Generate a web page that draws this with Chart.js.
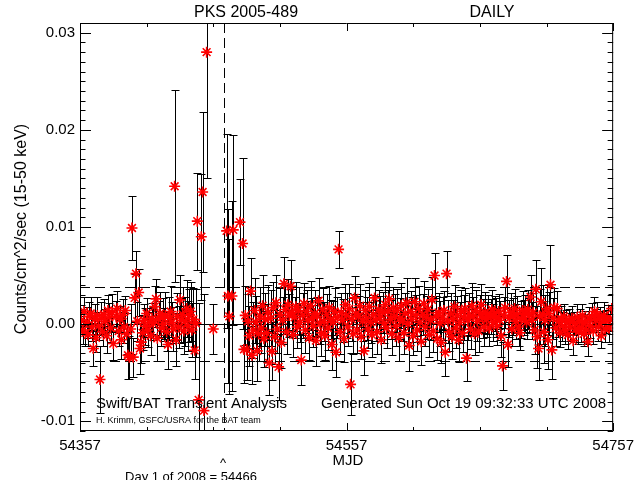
<!DOCTYPE html>
<html>
<head>
<meta charset="utf-8">
<script src="https://cdn.jsdelivr.net/npm/chart.js@4.4.1/dist/chart.umd.min.js"></script>
<style>
  html, body { margin: 0; padding: 0; background: #fff; }
</style>
</head>
<body>
<canvas id="myChart" width="640" height="480"></canvas>
<script>
// daily light curve, rate in units of 1e-3 counts/cm^2/sec
var mjd = [
  54358,54359,54360,54361,54362,54363,54364,54365,54366,54367,
  54368,54369,54370,54371,54372,54373,54374,54375,54376,54377,
  54378,54379,54380,54381,54382,54384,54385,54386,54387,54388,
  54389,54390,54391,54392,54393,54394,54395,54396,54397,54398,
  54399,54400,54401,54402,54403,54404,54405,54406,54407,54408,
  54409,54410,54411,54412,54413,54414,54415,54416,54417,54418,
  54419,54420,54421,54422,54423,54424,54425,54426,54427,54428,
  54429,54430,54431,54432,54433,54434,54435,54436,54437,54438,
  54439,54440,54441,54442,54443,54444,54445,54446,54448,54449,
  54450,54452,54457,54467,54468,54469,54471,54472,54477,54479,
  54480,54481,54482,54483,54484,54485,54486,54487,54488,54489,
  54490,54491,54492,54493,54494,54495,54496,54497,54498,54499,
  54500,54501,54502,54503,54504,54505,54506,54507,54508,54509,
  54510,54511,54512,54513,54514,54515,54516,54517,54518,54519,
  54520,54521,54522,54523,54524,54525,54526,54527,54528,54529,
  54530,54531,54532,54533,54534,54535,54536,54537,54538,54539,
  54540,54541,54542,54543,54544,54545,54546,54547,54548,54549,
  54550,54551,54552,54553,54554,54555,54556,54557,54558,54559,
  54560,54561,54562,54563,54564,54565,54566,54567,54568,54569,
  54570,54571,54572,54573,54574,54575,54576,54577,54578,54579,
  54580,54581,54582,54583,54584,54585,54586,54587,54588,54589,
  54590,54591,54592,54593,54594,54595,54596,54597,54598,54599,
  54600,54601,54602,54603,54604,54605,54606,54607,54608,54609,
  54610,54611,54612,54613,54614,54615,54616,54617,54618,54619,
  54620,54621,54622,54623,54624,54625,54626,54627,54628,54629,
  54630,54631,54632,54633,54634,54635,54636,54637,54638,54639,
  54640,54641,54642,54643,54644,54645,54646,54647,54648,54649,
  54650,54651,54652,54653,54654,54655,54656,54657,54658,54659,
  54660,54661,54662,54663,54664,54665,54666,54667,54668,54669,
  54670,54671,54672,54673,54674,54675,54676,54677,54678,54679,
  54680,54681,54682,54683,54684,54685,54686,54687,54688,54689,
  54690,54691,54692,54693,54694,54695,54696,54697,54698,54699,
  54700,54701,54702,54703,54704,54705,54706,54707,54708,54709,
  54710,54711,54712,54713,54714,54715,54716,54717,54718,54719,
  54720,54721,54722,54723,54724,54725,54726,54727,54728,54729,
  54730,54731,54732,54733,54734,54735,54736,54737,54738,54739,
  54740,54741,54742,54743,54744,54745,54746,54747,54748,54749,
  54750,54751,54752,54753,54754,54755,54756
];

var rate = [
  0.4,-0.6,1.3,-0.9,0.2,-1.1,0.8,1.1,-0.3,-2.5,
  0.5,-1.4,0.9,-0.2,-5.7,0.6,-0.8,1.0,0.3,-1.2,
  1.4,0.7,-0.4,1.2,-2.0,0.8,1.6,-0.7,0.5,-1.6,
  0.9,-0.3,1.4,-1.0,-3.2,-3.4,-0.5,9.9,-3.4,2.7,
  5.2,0.3,3.25,-2.5,-1.85,-0.9,0.4,-0.2,1.1,-0.6,
  0.2,-1.2,0.6,0.1,1.8,2.6,-1.45,0.5,1.1,-0.4,
  0.7,0.0,0.9,-0.8,-2.1,0.6,1.3,0.2,-0.5,14.2,
  -1.6,0.8,-0.3,2.5,0.4,1.0,-0.7,0.3,1.6,-0.2,
  0.9,1.3,-0.6,0.5,-2.7,0.1,10.6,-7.8,9.0,13.6,
  -8.9,28.0,-0.5,9.6,2.9,0.8,2.9,9.7,10.5,8.3,
  -2.6,0.9,-2.6,0.3,-1.2,3.4,-3.2,-0.6,1.4,0.2,
  -2.75,-1.0,0.8,-0.4,1.9,-1.5,0.5,-0.9,1.2,-4.0,
  0.6,-2.8,1.7,-1.3,2.2,-0.5,-4.4,1.0,-1.9,0.4,
  4.15,1.5,-0.8,2.0,0.9,3.9,1.2,-1.1,0.7,1.8,
  -0.3,1.4,0.2,-3.7,0.9,2.1,-0.6,1.3,0.4,-1.4,
  1.9,0.6,-0.2,1.1,-1.7,0.8,2.4,0.1,-0.9,1.5,
  0.3,-1.2,1.0,-0.4,1.7,0.5,-2.1,0.2,1.3,-2.9,
  0.7,7.7,-0.8,1.2,0.4,-1.5,2.0,0.9,-0.3,1.6,
  -6.2,0.5,-1.0,2.7,1.1,-0.6,0.8,1.9,-1.3,0.3,
  -2.75,1.4,0.6,-0.5,1.8,0.2,-1.1,1.0,2.7,0.4,
  -0.8,1.5,0.7,-1.6,1.2,0.1,2.0,-0.4,1.3,2.6,
  0.5,-1.0,1.7,0.8,-0.2,1.4,-1.4,0.6,1.9,0.3,
  -0.9,1.1,2.2,0.0,-2.2,1.3,0.5,-1.2,2.3,0.9,
  -0.6,1.6,0.2,-1.8,1.0,2.1,-0.3,0.7,1.5,-1.1,
  0.4,2.5,-0.7,5.0,0.8,-1.5,1.2,0.1,-1.9,0.6,
  1.4,-2.9,5.2,0.3,-0.8,1.1,-1.3,0.5,1.8,-0.4,
  0.9,-1.6,0.2,1.3,-0.9,0.7,1.6,-3.5,0.4,1.0,
  -0.5,1.9,0.8,-1.0,1.4,0.3,-0.7,1.1,2.0,0.6,
  -0.3,1.2,0.5,1.0,-0.4,0.8,1.5,0.2,1.1,0.7,
  -0.2,1.3,0.4,-1.2,-4.3,0.9,1.7,4.4,-2.1,0.6,
  1.2,-0.5,0.8,1.6,0.3,1.0,-0.3,-0.9,0.5,1.4,
  0.7,1.1,0.2,1.5,0.9,2.8,0.4,1.2,-0.6,3.6,
  -1.3,-2.5,0.8,2.3,1.0,-0.8,0.4,1.6,-1.6,1.1,
  4.05,-2.65,0.6,1.7,-0.4,1.6,0.3,-0.9,0.5,-0.2,
  0.8,-0.6,0.2,-1.1,0.4,-0.3,0.6,-1.7,0.1,-0.5,
  0.7,-0.8,0.3,-0.4,0.9,-1.0,0.2,-0.6,-1.8,0.5,
  -0.2,0.8,-0.7,1.3,0.4,1.0,-0.3,0.6,-1.2,0.2,
  0.9,-0.5,0.3,0.7,-0.4,0.5,1.6
];

var rateErr = [
  1.2,1.4,1.5,1.3,1.6,1.2,1.5,1.7,1.4,1.8,
  1.6,1.5,1.9,1.4,3.4,1.7,1.5,1.6,1.3,1.8,
  1.6,1.5,1.4,1.9,1.7,1.6,1.8,1.5,1.4,2.0,
  1.7,1.6,1.5,2.1,2.4,2.2,2.6,3.3,2.0,2.5,
  2.3,2.0,2.4,2.6,2.2,1.8,1.7,1.9,1.6,1.8,
  1.5,2.0,1.6,1.7,2.1,2.0,2.3,1.9,2.2,1.8,
  2.0,1.7,2.4,2.0,2.5,2.2,2.6,2.1,2.3,9.9,
  2.7,2.4,2.2,2.6,2.3,2.8,2.4,2.5,2.9,2.6,
  2.7,3.0,2.8,3.2,2.9,3.5,5.0,10.0,6.5,8.2,
  12.0,13.0,2.6,10.0,9.0,8.0,9.8,9.8,4.4,8.8,
  3.5,3.0,3.2,2.8,3.1,3.4,3.0,2.9,3.3,2.7,
  3.1,2.8,3.0,2.6,3.2,2.9,2.7,3.0,2.8,3.3,
  2.9,3.0,2.6,2.8,2.9,2.5,3.4,2.7,2.6,2.4,
  2.8,2.5,2.3,2.6,2.2,2.7,2.4,2.3,2.1,2.5,
  2.2,2.4,2.0,2.6,2.3,2.1,2.4,2.2,2.0,2.3,
  2.5,2.1,2.2,2.4,2.6,2.0,2.3,2.1,2.4,2.2,
  2.0,2.5,2.1,2.3,2.2,2.0,2.6,2.2,2.4,2.5,
  2.1,1.9,2.3,2.0,2.2,2.4,2.1,2.3,2.0,2.5,
  3.2,2.2,2.1,2.3,2.0,2.4,2.1,2.2,2.3,2.0,
  2.5,2.1,2.2,2.0,2.4,2.1,2.3,2.0,2.2,2.1,
  2.3,2.0,2.2,2.4,2.1,2.0,2.3,2.1,2.2,2.4,
  2.0,2.2,2.1,2.3,2.0,2.2,2.4,2.1,2.3,2.0,
  2.2,2.1,2.5,2.2,2.6,2.1,2.3,2.0,2.4,2.1,
  2.2,2.3,2.0,2.4,2.1,2.3,2.0,2.2,2.1,2.3,
  2.0,2.4,2.2,2.3,2.1,2.2,2.0,2.3,2.1,2.2,
  2.0,2.4,2.3,2.2,2.0,2.1,2.3,2.0,2.2,2.1,
  2.0,2.3,2.1,2.2,2.0,2.3,2.1,2.4,2.0,2.2,
  2.1,2.3,2.0,2.2,2.1,2.0,2.2,1.9,2.1,2.0,
  1.9,2.1,1.8,2.0,1.9,1.8,2.0,1.9,1.8,2.0,
  1.9,1.8,2.0,2.2,2.5,1.9,2.1,2.7,2.3,1.9,
  2.0,1.8,1.9,2.0,1.8,1.9,2.0,1.8,1.9,2.0,
  1.8,1.9,1.7,2.0,1.8,2.3,1.9,2.0,2.5,3.0,
  3.2,3.3,2.8,3.5,3.0,3.2,2.6,2.4,3.0,2.2,
  4.1,3.0,2.1,2.0,1.9,1.8,1.6,1.5,1.4,1.5,
  1.3,1.4,1.3,1.5,1.2,1.4,1.3,1.5,1.2,1.3,
  1.4,1.2,1.3,1.4,1.2,1.3,1.2,1.4,1.5,1.3,
  1.2,1.4,1.3,1.5,1.2,1.3,1.4,1.2,1.3,1.2,
  1.4,1.3,1.2,1.3,1.4,1.2,1.5
];

var xTickLabels = [54357, 54557, 54757];
var xMinorTicks = [54407, 54457, 54507, 54607, 54657, 54707];
var yTickLabels = [-10, 0, 10, 20, 30];
var dashLevels = [-3.8, 3.8];
var newYearMjd = 54465;

var FONT = '"Liberation Sans", Arial, sans-serif';

var points = mjd.map(function (d, i) {
    return { x: d, y: rate[i] };
});

function drawText(ctx, str, x, y, size, align) {
    ctx.font = size + 'px ' + FONT;
    ctx.textAlign = align || 'left';
    ctx.textBaseline = 'alphabetic';
    ctx.fillStyle = '#000';
    ctx.fillText(str, x, y);
}

// reference lines + error bars, under the red stars
var errorBars = {
    id: 'errorBars',
    beforeDatasetsDraw: function (chart) {
        var ctx = chart.ctx, xs = chart.scales.x, ys = chart.scales.y, a = chart.chartArea;
        ctx.save();
        ctx.beginPath();
        ctx.rect(a.left, a.top, a.right - a.left, a.bottom - a.top);
        ctx.clip();
        ctx.strokeStyle = '#000';
        ctx.lineWidth = 1;

        var y0 = Math.round(ys.getPixelForValue(0)) + 0.5;
        ctx.beginPath();
        ctx.moveTo(a.left, y0);
        ctx.lineTo(a.right, y0);
        ctx.stroke();

        ctx.setLineDash([10, 5]);
        ctx.beginPath();
        dashLevels.forEach(function (v) {
            var yy = Math.round(ys.getPixelForValue(v)) + 0.5;
            ctx.moveTo(a.left, yy);
            ctx.lineTo(a.right, yy);
        });
        var xv = Math.round(xs.getPixelForValue(newYearMjd)) + 0.5;
        ctx.moveTo(xv, a.top);
        ctx.lineTo(xv, a.bottom);
        ctx.stroke();
        ctx.setLineDash([]);

        ctx.beginPath();
        for (var i = 0; i < mjd.length; i++) {
            var px = Math.round(xs.getPixelForValue(mjd[i])) + 0.5;
            var top = Math.round(ys.getPixelForValue(rate[i] + rateErr[i])) + 0.5;
            var bot = Math.round(ys.getPixelForValue(rate[i] - rateErr[i])) + 0.5;
            ctx.moveTo(px, top);
            ctx.lineTo(px, bot);
            ctx.moveTo(px - 4, top);
            ctx.lineTo(px + 4, top);
            ctx.moveTo(px - 4, bot);
            ctx.lineTo(px + 4, bot);
        }
        ctx.stroke();
        ctx.restore();
    }
};

// box, inward ticks and the annotation texts
var frame = {
    id: 'frame',
    afterDraw: function (chart) {
        var ctx = chart.ctx, xs = chart.scales.x, ys = chart.scales.y, a = chart.chartArea;
        ctx.save();
        ctx.strokeStyle = '#000';
        ctx.lineWidth = 1;
        ctx.beginPath();
        ctx.rect(a.left + 0.5, a.top + 0.5, a.right - a.left - 1, a.bottom - a.top - 1);

        for (var v = -11; v <= 31; v++) {
            var yy = Math.round(ys.getPixelForValue(v)) + 0.5;
            var len = (v % 10 === 0) ? 11 : 5.5;
            ctx.moveTo(a.left, yy);
            ctx.lineTo(a.left + len, yy);
            ctx.moveTo(a.right, yy);
            ctx.lineTo(a.right - len, yy);
        }
        xTickLabels.forEach(function (d) {
            var xx = Math.round(xs.getPixelForValue(d)) + 0.5;
            ctx.moveTo(xx, a.bottom);
            ctx.lineTo(xx, a.bottom - 8);
            ctx.moveTo(xx, a.top);
            ctx.lineTo(xx, a.top + 8);
        });
        xMinorTicks.forEach(function (d) {
            var xx = Math.round(xs.getPixelForValue(d)) + 0.5;
            ctx.moveTo(xx, a.bottom);
            ctx.lineTo(xx, a.bottom - 4);
            ctx.moveTo(xx, a.top);
            ctx.lineTo(xx, a.top + 4);
        });
        ctx.stroke();

        drawText(ctx, 'PKS 2005-489', 246, 17, 16, 'center');
        drawText(ctx, 'DAILY', 492, 17, 16, 'center');
        drawText(ctx, 'Swift/BAT Transient Analysis', 96, 408, 15);
        drawText(ctx, 'Generated Sun Oct 19 09:32:33 UTC 2008', 321, 408, 15);
        drawText(ctx, 'H. Krimm, GSFC/USRA for the BAT team', 96, 423, 9);
        drawText(ctx, 'MJD', 348, 465, 15, 'center');
        drawText(ctx, '^', 223, 467, 13, 'center');
        drawText(ctx, 'Day 1 of 2008 = 54466', 191, 481, 13, 'center');

        ctx.translate(26, 229);
        ctx.rotate(-Math.PI / 2);
        drawText(ctx, 'Counts/cm^2/sec (15-50 keV)', 0, 0, 16, 'center');
        ctx.restore();
    }
};

var ctx = document.getElementById('myChart').getContext('2d');
var myChart = new Chart(ctx, {
    type: 'scatter',
    data: {
        datasets: [{
            label: 'rate',
            data: points,
            pointStyle: 'star',
            pointRadius: 5.5,
            pointHoverRadius: 5.5,
            borderColor: '#ff0000',
            backgroundColor: '#ff0000',
            borderWidth: 1.6
        }]
    },
    options: {
        responsive: false,
        animation: false,
        devicePixelRatio: 1,
        layout: { padding: { top: 23, right: 24, left: 0, bottom: 0 } },
        plugins: {
            legend: { display: false },
            tooltip: { enabled: false }
        },
        scales: {
            x: {
                type: 'linear',
                min: 54357,
                max: 54757,
                afterBuildTicks: function (s) {
                    s.ticks = xTickLabels.map(function (v) { return { value: v }; });
                },
                afterFit: function (s) { s.height = 49; },
                grid: { display: false, drawTicks: false },
                border: { display: false },
                ticks: {
                    color: '#000',
                    font: { family: FONT, size: 15 },
                    padding: 6,
                    maxRotation: 0,
                    autoSkip: false,
                    callback: function (value) { return String(value); }
                }
            },
            y: {
                min: -11,
                max: 31,
                afterBuildTicks: function (s) {
                    s.ticks = yTickLabels.map(function (v) { return { value: v }; });
                },
                afterFit: function (s) { s.width = 80; },
                grid: { display: false, drawTicks: false },
                border: { display: false },
                ticks: {
                    color: '#000',
                    font: { family: FONT, size: 15 },
                    padding: 5,
                    autoSkip: false,
                    callback: function (value) { return (value / 1000).toFixed(2); }
                }
            }
        }
    },
    plugins: [errorBars, frame]
});
</script>
</body>
</html>
